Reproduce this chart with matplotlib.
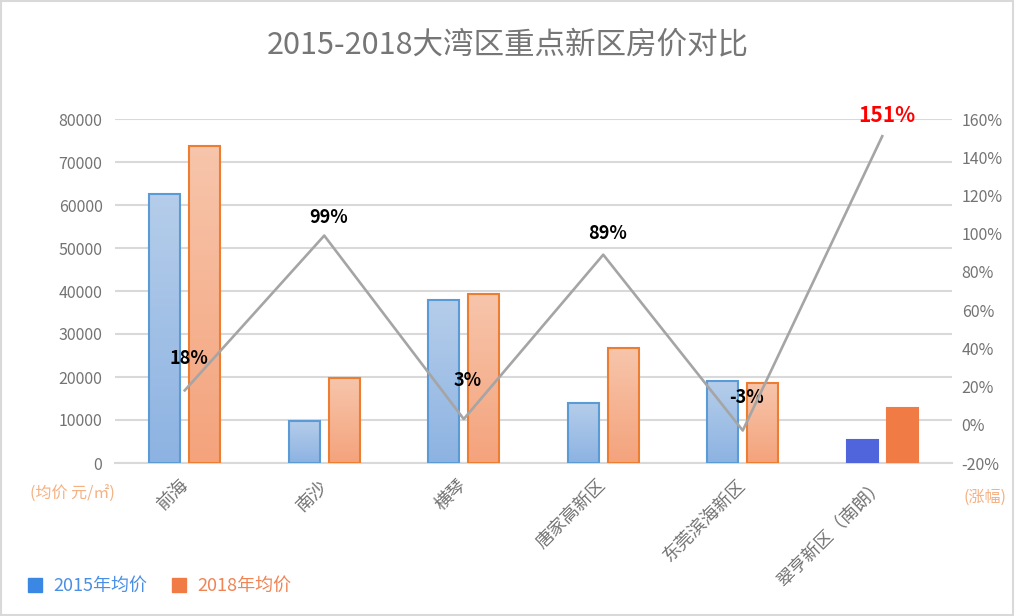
import matplotlib
matplotlib.use("Agg")
import matplotlib.pyplot as plt
import numpy as np
from matplotlib.colors import LinearSegmentedColormap
from matplotlib.patches import Rectangle
from matplotlib.lines import Line2D

plt.rcParams['font.family'] = ['Noto Sans CJK SC', 'DejaVu Sans']

# data
districts = ['前海', '南沙', '横琴', '唐家高新区', '东莞滨海新区', '翠亨新区（南朗）']
price_2015 = [62500, 9800, 37900, 14000, 19000, 5300]
price_2018 = [73700, 19700, 39300, 26700, 18600, 12800]
growth = [18, 99, 3, 89, -3, 151]
growth_labels = ['18%', '99%', '3%', '89%', '-3%', '151%']

gray = '#737373'
grid = '#D9D9D9'

fig = plt.figure(figsize=(10.15, 6.16), dpi=100)
ax = fig.add_axes([115 / 1015, 1 - 463 / 616, 837 / 1015, 344 / 616])

x = np.arange(len(districts))
w = 0.222
off = 0.143

blue_cm = LinearSegmentedColormap.from_list('b', ['#B5CDEA', '#8DB3E2'])
orng_cm = LinearSegmentedColormap.from_list('o', ['#F7C5AB', '#F4A37C'])
grad = np.linspace(0, 1, 64).reshape(-1, 1)

bars_b = ax.bar(x - off, price_2015, w, color='none', edgecolor='#5B9BD5', linewidth=1.5, zorder=3)
bars_o = ax.bar(x + off, price_2018, w, color='none', edgecolor='#ED7D31', linewidth=1.5, zorder=3)

# last district drawn in solid colours, no gradient
bars_b[-1].set_facecolor('#5064DC')
bars_b[-1].set_edgecolor('#5064DC')
bars_o[-1].set_facecolor('#F07B45')
bars_o[-1].set_edgecolor('#F07B45')

for bars, cm in ((bars_b, blue_cm), (bars_o, orng_cm)):
    for b in bars[:-1]:
        x0, y0 = b.get_x(), b.get_y()
        im = ax.imshow(grad, cmap=cm, aspect='auto', zorder=2,
                       extent=(x0, x0 + b.get_width(), y0, y0 + b.get_height()),
                       origin='upper')
        im.set_clip_path(b)

ax.set_xlim(-0.5, len(districts) - 0.5)
ax.set_ylim(0, 80000)
ax.set_yticks(np.arange(0, 80001, 10000))
ax.yaxis.grid(True, color=grid, linewidth=1.5, zorder=0)
ax.set_axisbelow(True)
for s in ['top', 'left', 'right']:
    ax.spines[s].set_visible(False)
ax.spines['bottom'].set_color(grid)
ax.spines['bottom'].set_linewidth(1.5)
ax.tick_params(axis='both', length=0, colors=gray, labelsize=11.5)
ax.tick_params(axis='y', pad=9)
ax.set_xticks(x)
ax.set_xticklabels(districts, rotation=45, ha='right', va='center',
                   rotation_mode='anchor', fontsize=13, color=gray)
ax.tick_params(axis='x', pad=14)

ax2 = ax.twinx()
ax2.set_ylim(-20, 160)
ax2.set_yticks(np.arange(-20, 161, 20))
ax2.set_yticklabels([f'{v}%' for v in range(-20, 161, 20)])
ax2.tick_params(axis='y', length=0, colors=gray, labelsize=11.5, pad=7)
for s in ax2.spines.values():
    s.set_visible(False)
ax2.plot(x, growth, color='#A5A5A5', linewidth=1.9, zorder=4)

label_off = [23, 13, 28, 15, 24, 15]
for i, (g, t) in enumerate(zip(growth, growth_labels)):
    last = i == len(growth) - 1
    ax2.annotate(t, (x[i], g), xytext=(3, label_off[i]), textcoords='offset points',
                 ha='center', va='center', fontweight='bold',
                 fontsize=15 if last else 13, color='#FF0000' if last else 'black')

fig.text(0.5, 1 - 45 / 616, '2015-2018大湾区重点新区房价对比', ha='center', va='center',
         fontsize=22, color='#767676')
fig.text(72 / 1015, 1 - 494 / 616, '(均价 元/㎡)', ha='center', va='center',
         fontsize=11.5, color='#F4B183')
fig.text(985 / 1015, 1 - 497 / 616, '(涨幅)', ha='center', va='center',
         fontsize=11.5, color='#F4B183')

handles = [Line2D([], [], marker='s', linestyle='none', markersize=10, color='#3A88E4'),
           Line2D([], [], marker='s', linestyle='none', markersize=10, color='#F07B45')]
fig.legend(handles, ['2015年均价', '2018年均价'], loc='center left',
           bbox_to_anchor=(29 / 1015, 1 - 586 / 616), ncol=2, frameon=False,
           fontsize=13, labelcolor=['#4A8FE6', '#F08455'], borderpad=0,
           borderaxespad=0, handlelength=0.7, handletextpad=0.65, columnspacing=1.4)

fig.patches.append(Rectangle((0.001, 0.001), 0.997, 0.997, transform=fig.transFigure,
                             fill=False, edgecolor=grid, linewidth=1.5))

fig.savefig('out.png', dpi=100)
